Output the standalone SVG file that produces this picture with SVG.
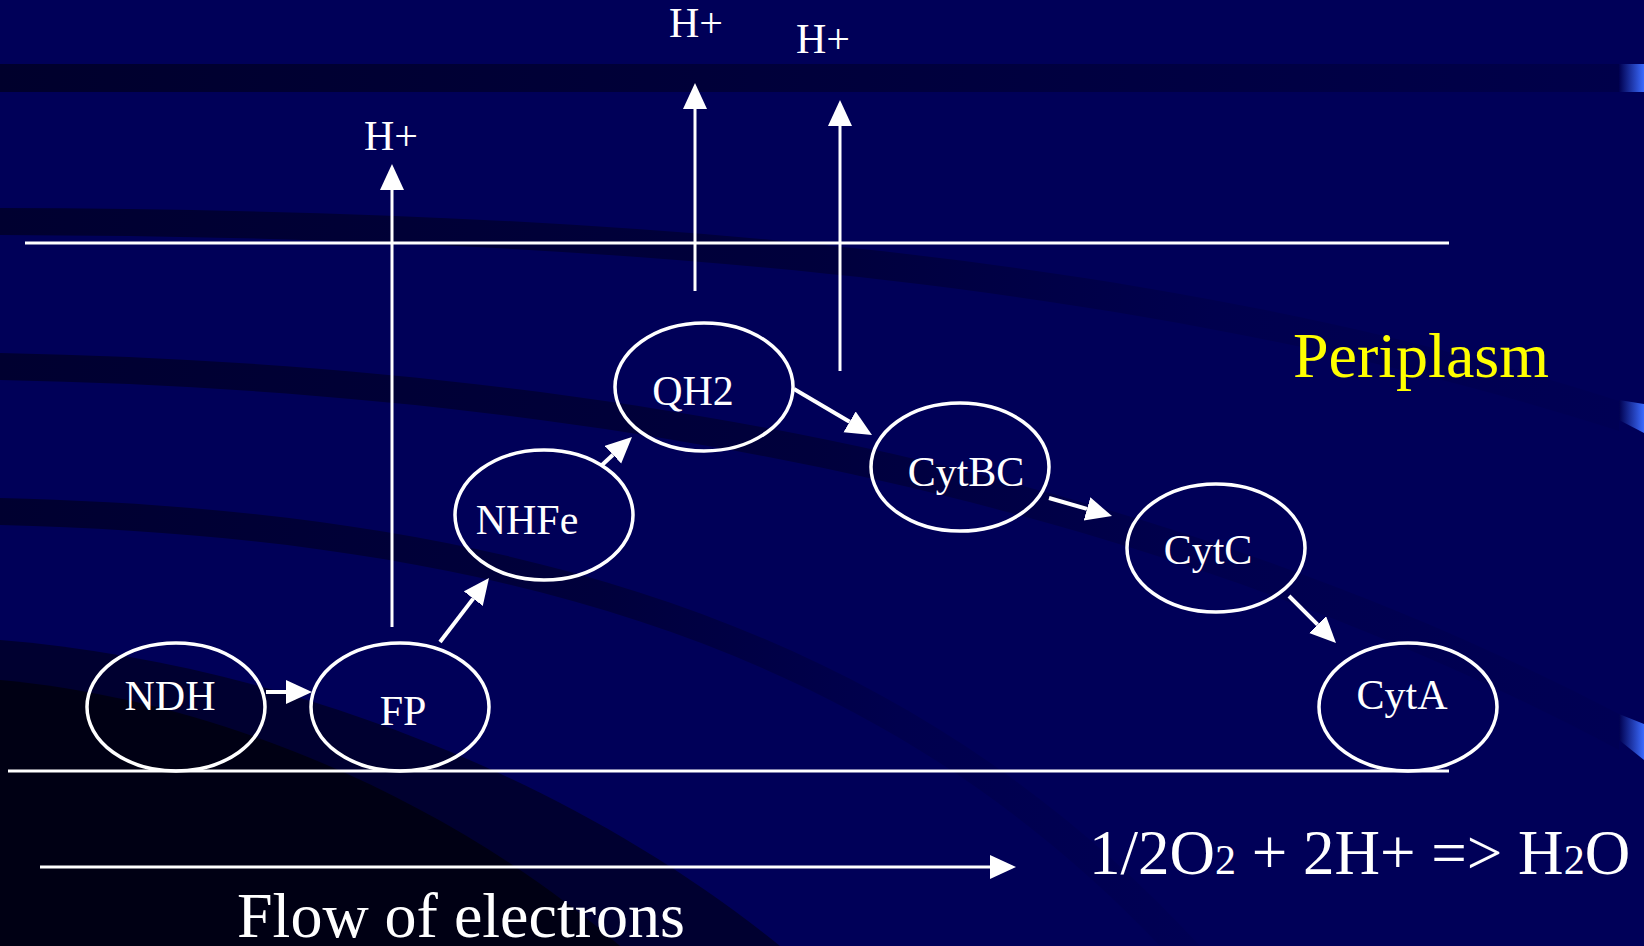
<svg xmlns="http://www.w3.org/2000/svg" width="1644" height="946" viewBox="0 0 1644 946">
<defs>
<linearGradient id="bandA" x1="0" y1="0" x2="1" y2="0">
<stop offset="0" stop-color="#00002c"/>
<stop offset="1" stop-color="#00004a"/>
</linearGradient>
<linearGradient id="band" x1="0" y1="0" x2="1" y2="0">
<stop offset="0" stop-color="#000030"/>
<stop offset="0.5" stop-color="#00003c"/>
<stop offset="0.75" stop-color="#00004e"/>
<stop offset="1" stop-color="#000054"/>
</linearGradient>
<linearGradient id="tab" x1="0" y1="0" x2="1" y2="0">
<stop offset="0" stop-color="#000050"/>
<stop offset="1" stop-color="#3b6bff"/>
</linearGradient>
<marker id="ah" markerUnits="userSpaceOnUse" markerWidth="28" markerHeight="26" refX="0" refY="12" orient="auto">
<path d="M0,0 L26,12 L0,24 Z" fill="#ffffff"/>
</marker>
<style>
.lbl{font-family:"Liberation Serif","Times New Roman",serif;fill:#ffffff;text-anchor:middle;}
.node{fill:none;stroke:#ffffff;stroke-width:3.5;}
.ln{stroke:#ffffff;stroke-width:3;fill:none;}
.ar{stroke:#ffffff;stroke-width:4;fill:none;marker-end:url(#ah);}
.big{font-family:"Liberation Serif","Times New Roman",serif;font-size:64px;fill:#ffffff;}
</style>
</defs>

<g id="background">
<rect x="0" y="0" width="1644" height="946" fill="#000058"/>
<rect x="0" y="64" width="1619" height="28" fill="url(#bandA)"/>
<path d="M0,208 C600,210 1150,250 1619,401 L1619,431 C1150,280 600,237 0,235 Z" fill="url(#band)"/>
<path d="M0,353 C600,365 1150,470 1619,714 L1619,750 C1150,500 600,392 0,380 Z" fill="url(#band)"/>
<path d="M0,498 C500,510 900,620 1200,946 L1160,946 C870,640 480,537 0,525 Z" fill="url(#band)"/>
<path d="M0,640 C250,660 550,760 780,946 L0,946 Z" fill="#000030"/>
<path d="M0,680 C220,700 450,800 620,946 L0,946 Z" fill="#000014"/>
<rect x="1619" y="64" width="25" height="28" fill="url(#tab)"/>
<path d="M1619,400 L1644,404 L1644,433 L1619,420 Z" fill="url(#tab)"/>
<path d="M1619,714 L1644,724 L1644,760 L1619,740 Z" fill="url(#tab)"/>
</g>

<g id="membranes">
<line class="ln" x1="25" y1="243" x2="1449" y2="243"/>
<line class="ln" x1="8" y1="771" x2="1449" y2="771"/>
</g>

<g id="connectors">
<line class="ar" x1="266" y1="692" x2="286" y2="692"/>
<line class="ar" x1="440" y1="642" x2="473.2" y2="598.6"/>
<line class="ar" x1="602" y1="465" x2="613" y2="454.7"/>
<line class="ar" x1="794" y1="389" x2="849.6" y2="421.8"/>
<line class="ar" x1="1049" y1="498" x2="1087" y2="508.9"/>
<line class="ar" x1="1289" y1="596" x2="1317.6" y2="624.6"/>
<line class="ar" x1="392" y1="627" x2="392" y2="190" style="stroke-width:3"/>
<line class="ar" x1="695" y1="291" x2="695" y2="109" style="stroke-width:3"/>
<line class="ar" x1="840" y1="371" x2="840" y2="126" style="stroke-width:3"/>
<line class="ar" x1="40" y1="867" x2="990" y2="867" style="stroke-width:3"/>
</g>

<g id="NDH"><ellipse class="node" cx="176" cy="707" rx="89" ry="64"/><text class="lbl" x="170" y="710" font-size="42">NDH</text></g>
<g id="FP"><ellipse class="node" cx="400" cy="707" rx="89" ry="64"/><text class="lbl" x="403" y="725" font-size="42">FP</text></g>
<g id="NHFe"><ellipse class="node" cx="544" cy="515" rx="89" ry="65"/><text class="lbl" x="527" y="534" font-size="42">NHFe</text></g>
<g id="QH2"><ellipse class="node" cx="704" cy="387" rx="89" ry="64"/><text class="lbl" x="693" y="405" font-size="42">QH2</text></g>
<g id="CytBC"><ellipse class="node" cx="960" cy="467" rx="89" ry="64"/><text class="lbl" x="966" y="486" font-size="42">CytBC</text></g>
<g id="CytC"><ellipse class="node" cx="1216" cy="548" rx="89" ry="64"/><text class="lbl" x="1208" y="564" font-size="42">CytC</text></g>
<g id="CytA"><ellipse class="node" cx="1408" cy="707" rx="89" ry="64"/><text class="lbl" x="1402" y="709" font-size="42">CytA</text></g>

<g id="labels">
<text class="lbl" x="391" y="150" font-size="42">H+</text>
<text class="lbl" x="696" y="37" font-size="42">H+</text>
<text class="lbl" x="823" y="53" font-size="42">H+</text>
<text class="big" x="1293" y="377" style="fill:#ffff00">Periplasm</text>
<text class="big" x="1089" y="874" font-size="63" style="font-size:63px">1/2O<tspan style="font-size:42px">2</tspan> + 2H+ =&gt; H<tspan style="font-size:42px">2</tspan>O</text>
<text class="big" x="237" y="937">Flow of electrons</text>
</g>
</svg>
